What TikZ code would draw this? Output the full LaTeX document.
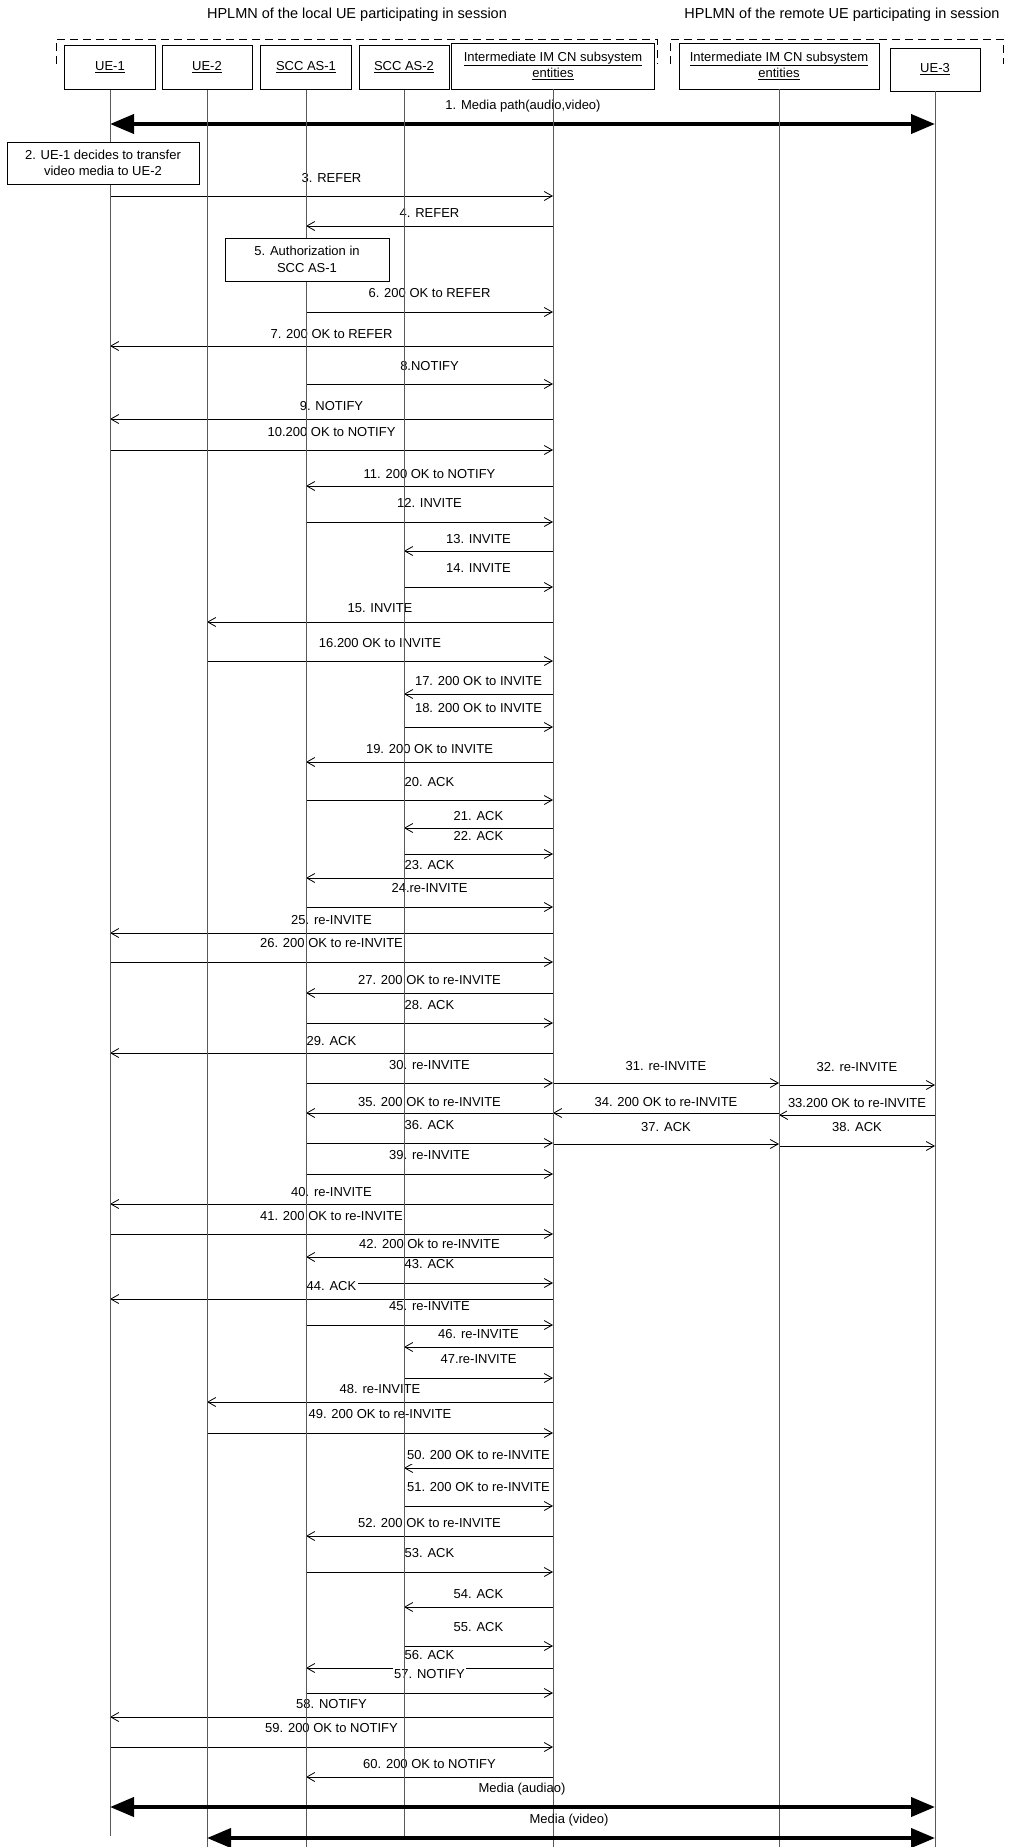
\documentclass[tikz,border=0pt]{standalone}
\usepackage{fontspec}
\setmainfont{Liberation Sans}
\usetikzlibrary{arrows.meta,calc}
\tikzset{>=latex}

\begin{document}
\begin{tikzpicture}[x=1pt, y=-1pt,
  font=\fontsize{13}{16.5}\selectfont,
  entity/.style={draw, line width=0.8pt, minimum height=44pt, align=center, inner sep=2pt},
  note/.style={draw, line width=0.8pt, fill=white, align=center, inner sep=2pt},
  life/.style={black!65, line width=0.9pt},
  msg/.style={-{Straight Barb[length=8pt,width=9pt]}, line width=0.8pt},
  media/.style={{Triangle[length=24pt,width=19pt]}-{Triangle[length=24pt,width=19pt]}, line width=4pt},
  lbl/.style={fill=white, inner sep=1.5pt, text height=9.5pt, text depth=2.5pt}]
\useasboundingbox (0,0) rectangle (1010,1847);

\node (homeA) at (357,15) {\fontsize{14.5}{17}\selectfont HPLMN of the local UE participating in session};
\node (homeB) at (842,15) {\fontsize{14.5}{17}\selectfont HPLMN of the remote UE participating in session};
\draw[dash pattern=on 8pt off 5pt, line width=0.8pt] (56,64) -- (56,39) -- (657,39) -- (657,64);
\draw[dash pattern=on 8pt off 5pt, line width=0.8pt] (670,64) -- (670,39) -- (1003,39) -- (1003,64);

\node[entity, minimum width=91pt] (ue1) at (110,67.5) {\underline{UE-1}};
\node[entity, minimum width=90pt] (ue2) at (207,67.5) {\underline{UE-2}};
\node[entity, minimum width=91pt] (scc1) at (306,67.5) {\underline{SCC AS-1}};
\node[entity, minimum width=90pt] (scc2) at (404,67.5) {\underline{SCC AS-2}};
\node[entity, minimum width=203pt, minimum height=46pt] (imcnA) at (553,66) {\underline{Intermediate IM CN subsystem}\\\underline{entities}};
\node[entity, minimum width=200pt, minimum height=46pt] (imcnB) at (779,66) {\underline{Intermediate IM CN subsystem}\\\underline{entities}};
\node[entity, minimum width=90pt, minimum height=43pt] (ue3) at (935,69.5) {\underline{UE-3}};

\draw[media] (ue1 |- 0,124) -- (ue3 |- 0,124);
\node (path1) at (523,106) {1. Media path(audio,video)};

\foreach \a/\b/\y/\ly/\t in {
  ue1/imcnA/196/178/3. REFER,
  imcnA/scc1/226/213/4. REFER,
  scc1/imcnA/312/293/6. 200 OK to REFER,
  imcnA/ue1/346/334/7. 200 OK to REFER,
  scc1/imcnA/384/366/8.NOTIFY,
  imcnA/ue1/419/406/9. NOTIFY,
  ue1/imcnA/450/432/10.200 OK to NOTIFY,
  imcnA/scc1/486/474/11. 200 OK to NOTIFY,
  scc1/imcnA/522/503/12. INVITE,
  imcnA/scc2/551/539/13. INVITE,
  scc2/imcnA/587/568/14. INVITE,
  imcnA/ue2/622/608/15. INVITE,
  ue2/imcnA/661/643/16.200 OK to INVITE,
  imcnA/scc2/694/681/17. 200 OK to INVITE,
  scc2/imcnA/727/708/18. 200 OK to INVITE,
  imcnA/scc1/762/749/19. 200 OK to INVITE,
  scc1/imcnA/800/782/20. ACK,
  imcnA/scc2/828/816/21. ACK,
  scc2/imcnA/854/836/22. ACK,
  imcnA/scc1/878/865/23. ACK,
  scc1/imcnA/907/888/24.re-INVITE,
  imcnA/ue1/933/920/25. re-INVITE,
  ue1/imcnA/962/943/26. 200 OK to re-INVITE,
  imcnA/scc1/993/980/27. 200 OK to re-INVITE,
  scc1/imcnA/1023/1005/28. ACK,
  imcnA/ue1/1053/1041/29. ACK,
  scc1/imcnA/1083/1065/30. re-INVITE,
  imcnA/imcnB/1083/1066/31. re-INVITE,
  imcnB/ue3/1085/1067/32. re-INVITE,
  ue3/imcnB/1115/1103/33.200 OK to re-INVITE,
  imcnB/imcnA/1113/1102/34. 200 OK to re-INVITE,
  imcnA/scc1/1113/1102/35. 200 OK to re-INVITE,
  scc1/imcnA/1143/1125/36. ACK,
  imcnA/imcnB/1144/1127/37. ACK,
  imcnB/ue3/1146/1127/38. ACK,
  scc1/imcnA/1174/1155/39. re-INVITE,
  imcnA/ue1/1204/1192/40. re-INVITE,
  ue1/imcnA/1234/1216/41. 200 OK to re-INVITE,
  imcnA/scc1/1257/1244/42. 200 Ok to re-INVITE,
  scc1/imcnA/1283/1264/43. ACK,
  imcnA/ue1/1299/1286/44. ACK,
  scc1/imcnA/1325/1306/45. re-INVITE,
  imcnA/scc2/1347/1334/46. re-INVITE,
  scc2/imcnA/1378/1359/47.re-INVITE,
  imcnA/ue2/1402/1389/48. re-INVITE,
  ue2/imcnA/1433/1414/49. 200 OK to re-INVITE,
  imcnA/scc2/1468/1455/50. 200 OK to re-INVITE,
  scc2/imcnA/1506/1487/51. 200 OK to re-INVITE,
  imcnA/scc1/1536/1523/52. 200 OK to re-INVITE,
  scc1/imcnA/1572/1553/53. ACK,
  imcnA/scc2/1607/1594/54. ACK,
  scc2/imcnA/1646/1627/55. ACK,
  imcnA/scc1/1668/1655/56. ACK,
  scc1/imcnA/1693/1674/57. NOTIFY,
  imcnA/ue1/1717/1704/58. NOTIFY,
  ue1/imcnA/1747/1728/59. 200 OK to NOTIFY,
  imcnA/scc1/1777/1764/60. 200 OK to NOTIFY}
  \draw[msg] (\a |- 0,\y) -- node[lbl, midway, yshift={(\y-\ly-1.15)*1pt}] {\t} (\b |- 0,\y);

\foreach \e/\b in {ue1/1836, ue2/1847, scc1/1847, scc2/1836, imcnA/1847, imcnB/1847, ue3/1847}
  \draw[life] (\e.south) -- (\e |- 0,\b);

\node[note, minimum width=192pt, minimum height=42pt] (decide) at (103,163) {2. UE-1 decides to transfer\\video media to UE-2};
\node[note, minimum width=164pt, minimum height=43pt] (authz) at (307,259.5) {5. Authorization in\\SCC AS-1};

\draw[media] (ue1 |- 0,1807) -- (ue3 |- 0,1807);
\node (audio) at (522,1789) {Media (audiao)};
\draw[media] (ue2 |- 0,1838) -- (ue3 |- 0,1838);
\node (video) at (569,1820) {Media (video)};
\end{tikzpicture}
\end{document}
